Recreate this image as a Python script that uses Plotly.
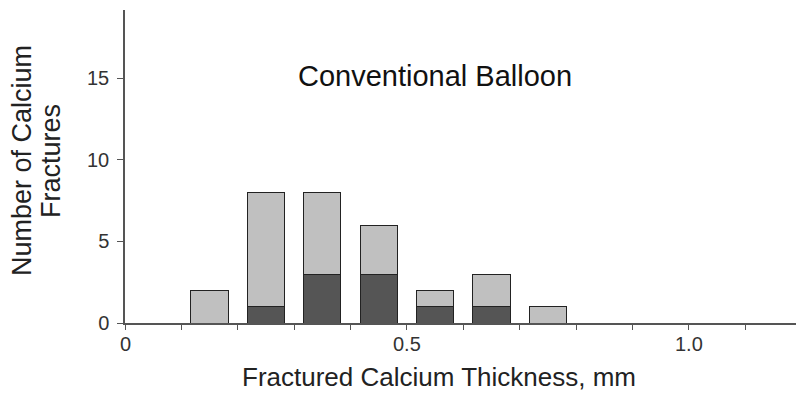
import plotly.graph_objects as go

bin_centers = [0.15, 0.25, 0.35, 0.45, 0.55, 0.65, 0.75]
dark_counts = [0, 1, 3, 3, 1, 1, 0]
light_counts = [2, 7, 5, 3, 1, 2, 1]
x_tick_vals = [0, 0.5, 1.0]
x_tick_text = ["0", "0.5", "1.0"]
y_tick_vals = [0, 5, 10, 15]

FONT = "Liberation Sans, Arial, sans-serif"

fig = go.Figure()
fig.add_trace(go.Bar(x=bin_centers, y=dark_counts, width=0.066,
                     marker=dict(color="#555555", line=dict(color="#222222", width=1))))
fig.add_trace(go.Bar(x=bin_centers, y=light_counts, width=0.066,
                     marker=dict(color="#c0c0c0", line=dict(color="#222222", width=1))))

fig.update_layout(
    barmode="stack", showlegend=False,
    width=796, height=395,
    margin=dict(l=125, r=0, t=10, b=72),
    plot_bgcolor="white", paper_bgcolor="white",
    font=dict(family=FONT, color="#222222"),
)
fig.update_xaxes(range=[0, 1.19], showgrid=False, zeroline=False,
                 showline=True, linecolor="#555555", linewidth=1.5,
                 ticks="outside", ticklen=5, tickcolor="#555555",
                 tick0=0, dtick=0.1, showticklabels=False)
for v, t in zip(x_tick_vals, x_tick_text):
    fig.add_annotation(x=v, y=0, xref="x", yref="y", text=t, showarrow=False,
                       yanchor="top", yshift=-8, font=dict(size=20, color="#333333"))
fig.update_yaxes(range=[0, 19.2], showgrid=False, zeroline=False,
                 showline=True, linecolor="#555555", linewidth=1.5,
                 ticks="outside", ticklen=6, tickcolor="#555555",
                 ticklabelstandoff=4,
                 tickvals=y_tick_vals, tickfont=dict(size=20, color="#333333"))

n_fixed = len(fig.layout.annotations)
fig.add_annotation(x=435, y=76, text="Conventional Balloon",
                   showarrow=False, font=dict(size=29, color="#111111"))
fig.add_annotation(x=439, y=377, text="Fractured Calcium Thickness, mm",
                   showarrow=False, font=dict(size=26, color="#222222"))
fig.add_annotation(x=22, y=161, text="Number of Calcium", textangle=-90,
                   showarrow=False, font=dict(size=27, color="#222222"))
fig.add_annotation(x=51, y=161, text="Fractures", textangle=-90,
                   showarrow=False, font=dict(size=27, color="#222222"))

# convert pixel-placed annotations to paper coordinates
pw = 796 - 125 - 0
ph = 395 - 10 - 72
for a in fig.layout.annotations[n_fixed:]:
    px, py = a.x, a.y
    a.xref = "paper"; a.yref = "paper"
    a.x = (px - 125) / pw
    a.y = (395 - 72 - py) / ph
    a.xanchor = "center"; a.yanchor = "middle"

fig.write_html("out.html")
